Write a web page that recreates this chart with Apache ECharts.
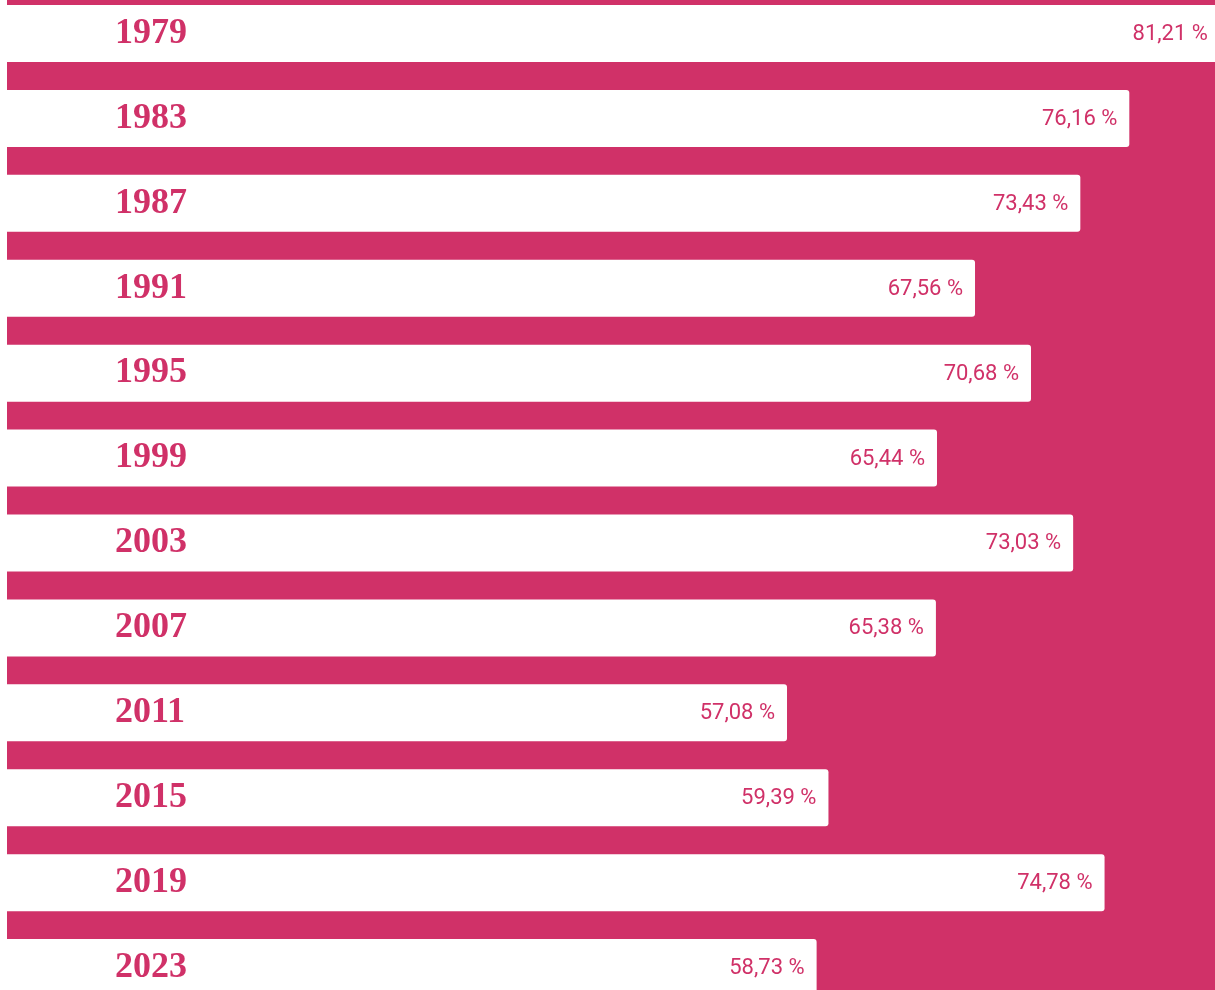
<!DOCTYPE html>
<html>
<head>
<meta charset="utf-8">
<script src="https://cdn.jsdelivr.net/npm/echarts@6/dist/echarts.min.js"></script>
<style>
  html, body { margin: 0; padding: 0; background: #fff; overflow: hidden; width: 1215px; height: 990px; }
  #bg { position: absolute; left: 7px; top: 0; width: 1208px; height: 990px; background: #d03168; }
  /* chart is wider than the window, scale starts left of the page */
  #chart { position: absolute; left: -236.6px; top: -9px; width: 1794px; height: 1019px; }
</style>
</head>
<body>
<div id="bg"></div>
<div id="chart"></div>
<script>
// Wahlbeteiligung
const years = ['1979', '1983', '1987', '1991', '1995', '1999', '2003', '2007', '2011', '2015', '2019', '2023']
const turnout = [81.21, 76.16, 73.43, 67.56, 70.68, 65.44, 73.03, 65.38, 57.08, 59.39, 74.78, 58.73]

const pink = '#d03168'

const chart = echarts.init(document.getElementById('chart'))

const option = {
  animation: false,
  grid: {
    left: 0,
    right: 0,
    top: 0,
    bottom: 0,
    outerBoundsMode: 'none'
  },
  xAxis: {
    type: 'value',
    min: 0,
    max: 100,
    show: false
  },
  yAxis: {
    type: 'category',
    data: years,
    inverse: true,
    z: 10,
    axisLine: { show: false },
    axisTick: { show: false },
    axisLabel: {
      inside: true,
      margin: 352,
      color: pink,
      fontFamily: 'Liberation Serif',
      fontWeight: 'bold',
      fontSize: 36
    }
  },
  series: [
    {
      type: 'bar',
      data: turnout,
      barWidth: 57,
      itemStyle: {
        color: '#ffffff',
        borderRadius: [0, 3, 3, 0]
      },
      label: {
        show: true,
        position: 'insideRight',
        distance: 12,
        offset: [0, 1],
        color: pink,
        fontFamily: 'Roboto',
        fontSize: 22,
        formatter: p => p.value.toFixed(2).replace('.', ',') + ' %'
      }
    }
  ]
}

chart.setOption(option)
</script>
</body>
</html>
